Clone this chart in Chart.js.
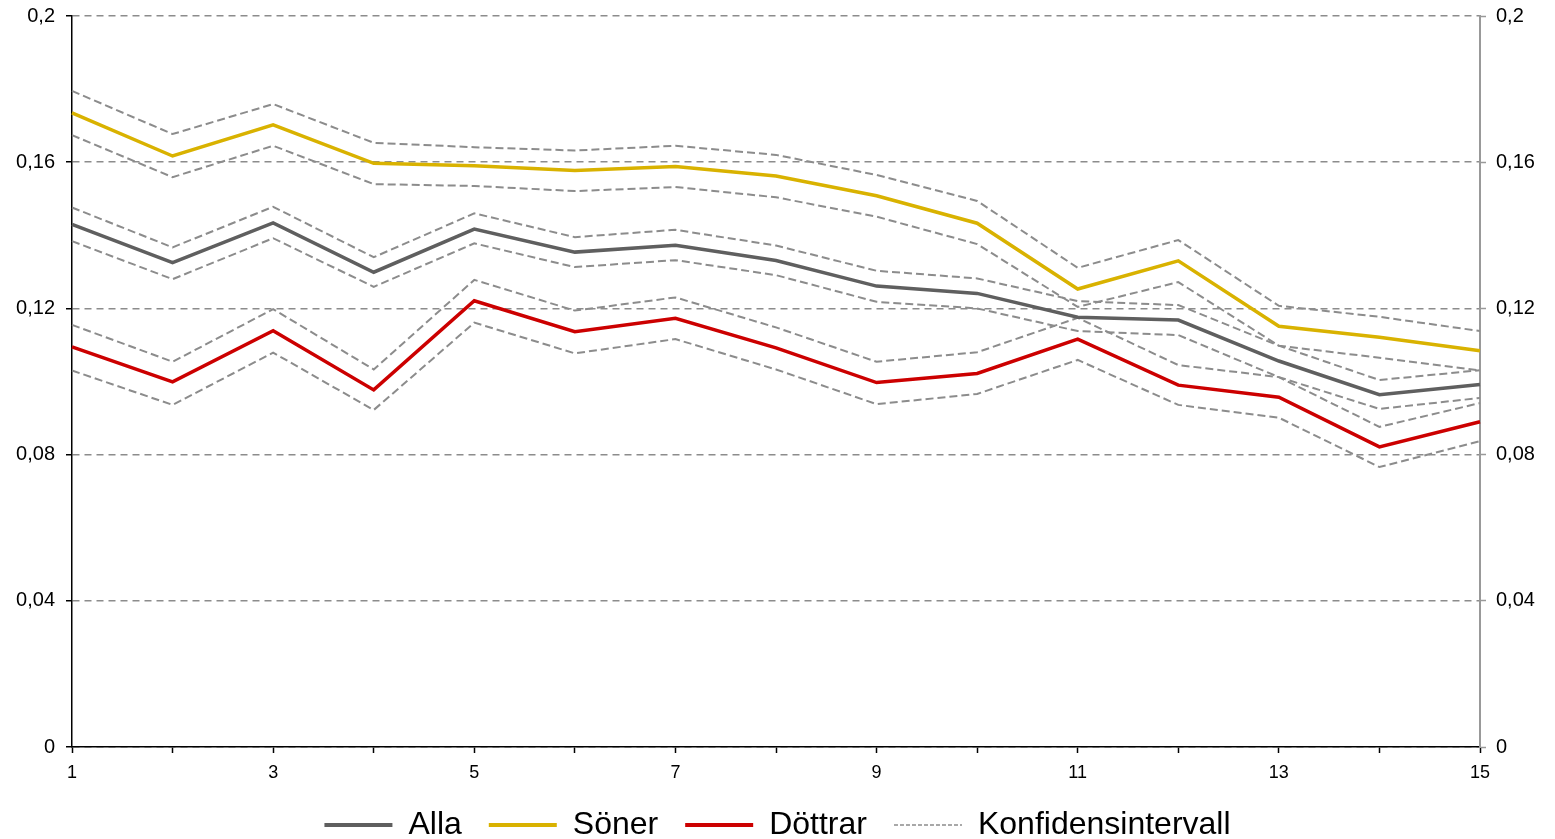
<!DOCTYPE html>
<html lang="sv">
<head>
<meta charset="utf-8">
<title>Andel per år</title>
<script src="https://cdn.jsdelivr.net/npm/chart.js@4/dist/chart.umd.min.js"></script>
<style>
  html, body { margin: 0; padding: 0; background: #fff; }
  #wrap { width: 1555px; height: 839px; position: relative; }
</style>
</head>
<body>
<div id="wrap"><canvas id="ciChart"></canvas></div>
<script>
// —————— DATA ——————
const xLabels = ['1', '2', '3', '4', '5', '6', '7', '8', '9', '10', '11', '12', '13', '14', '15'];
const yTicks = [0, 0.04, 0.08, 0.12, 0.16, 0.2];

const alla      = [0.1430, 0.1325, 0.1434, 0.1299, 0.1417, 0.1354, 0.1373, 0.1331, 0.1261, 0.1241, 0.1176, 0.1168, 0.1056, 0.0964, 0.0992];
const allaHigh  = [0.1476, 0.1367, 0.1478, 0.1340, 0.1460, 0.1395, 0.1415, 0.1372, 0.1303, 0.1282, 0.1220, 0.1209, 0.1098, 0.1004, 0.1031];
const allaLow   = [0.1384, 0.1280, 0.1392, 0.1259, 0.1378, 0.1313, 0.1332, 0.1291, 0.1218, 0.1200, 0.1138, 0.1127, 0.1012, 0.0925, 0.0955];

const soner     = [0.1735, 0.1617, 0.1702, 0.1597, 0.1590, 0.1577, 0.1588, 0.1562, 0.1508, 0.1433, 0.1253, 0.1330, 0.1151, 0.1121, 0.1084];
const sonerHigh = [0.1795, 0.1677, 0.1759, 0.1653, 0.1641, 0.1632, 0.1645, 0.1620, 0.1565, 0.1494, 0.1311, 0.1387, 0.1207, 0.1177, 0.1138];
const sonerLow  = [0.1674, 0.1559, 0.1645, 0.1540, 0.1535, 0.1521, 0.1532, 0.1504, 0.1451, 0.1376, 0.1204, 0.1272, 0.1098, 0.1065, 0.1030];

const dottrar     = [0.1095, 0.0999, 0.1139, 0.0977, 0.1221, 0.1136, 0.1173, 0.1092, 0.0997, 0.1022, 0.1116, 0.0990, 0.0957, 0.0821, 0.0890];
const dottrarHigh = [0.1155, 0.1054, 0.1198, 0.1033, 0.1278, 0.1194, 0.1230, 0.1148, 0.1054, 0.1080, 0.1174, 0.1045, 0.1012, 0.0876, 0.0941];
const dottrarLow  = [0.1030, 0.0936, 0.1079, 0.0922, 0.1161, 0.1077, 0.1116, 0.1033, 0.0938, 0.0966, 0.1059, 0.0936, 0.0901, 0.0766, 0.0837];

// —————— STYLE ——————
const FONT = '"Liberation Sans", Arial, sans-serif';
const ciColor = '#8c8c8c';

function mainLine(label, data, color) {
  return {
    label: label,
    data: data,
    borderColor: color,
    backgroundColor: color,
    borderWidth: 3.5,
    pointRadius: 0,
    tension: 0,
    fill: false
  };
}

function ciLine(data) {
  return {
    label: 'Konfidensintervall',
    data: data,
    borderColor: ciColor,
    backgroundColor: ciColor,
    borderWidth: 2,
    borderDash: [8, 4],
    pointRadius: 0,
    tension: 0,
    fill: false
  };
}

// 0.16 -> "0,16"
const fmt = v => String(Math.round(v * 100) / 100).replace('.', ',');

// keep the plot box where the reference has it (labels may overhang)
function fixY(width) {
  return s => {
    s.width = width;
    s.paddingTop = 0;
    s.paddingBottom = 0;
  };
}

const ctx = document.getElementById('ciChart');

new Chart(ctx, {
  type: 'line',
  data: {
    labels: xLabels,
    datasets: [
      mainLine('Alla', alla, '#5f5f5f'),
      mainLine('Söner', soner, '#d9b200'),
      mainLine('Döttrar', dottrar, '#cc0000'),
      ciLine(sonerHigh),
      ciLine(sonerLow),
      ciLine(allaHigh),
      ciLine(allaLow),
      ciLine(dottrarHigh),
      ciLine(dottrarLow)
    ]
  },
  options: {
    responsive: true,
    maintainAspectRatio: false,
    animation: false,
    layout: {
      padding: { top: 16, left: 0, right: 0, bottom: -12 }
    },
    scales: {
      x: {
        offset: false,
        afterFit: s => { s.height = 35; },
        grid: {
          drawOnChartArea: false,
          drawTicks: true,
          tickLength: 6,
          tickColor: '#000',
          tickWidth: 1.5
        },
        border: { display: true, color: '#000', width: 1.5 },
        ticks: {
          autoSkip: false,
          maxRotation: 0,
          padding: 9,
          color: '#000',
          font: { family: FONT, size: 18 },
          callback: function (value, index) {
            return index % 2 === 0 ? xLabels[index] : '';
          }
        }
      },
      y: {
        position: 'left',
        min: 0,
        max: 0.2,
        afterFit: fixY(72),
        afterBuildTicks: s => { s.ticks = yTicks.map(v => ({ value: v })); },
        grid: {
          color: ciColor,
          lineWidth: 1.5,
          drawTicks: true,
          tickLength: 6,
          tickColor: '#000',
          tickWidth: 1.5,
          tickBorderDash: []
        },
        border: { display: true, color: '#000', width: 1.5, dash: [7, 5] },
        ticks: {
          padding: 11,
          color: '#000',
          font: { family: FONT, size: 20 },
          callback: v => fmt(v)
        }
      },
      y2: {
        position: 'right',
        min: 0,
        max: 0.2,
        afterFit: fixY(75),
        afterBuildTicks: s => { s.ticks = yTicks.map(v => ({ value: v })); },
        grid: {
          drawOnChartArea: false,
          drawTicks: true,
          tickLength: 6,
          tickColor: '#999',
          tickWidth: 1.5
        },
        border: { display: true, color: '#999', width: 2 },
        ticks: {
          padding: 10,
          color: '#000',
          font: { family: FONT, size: 20 },
          callback: v => fmt(v)
        }
      }
    },
    plugins: {
      legend: {
        display: true,
        position: 'bottom',
        labels: {
          usePointStyle: true,
          pointStyle: 'line',
          pointStyleWidth: 68,
          padding: 27,
          color: '#000',
          font: { family: FONT, size: 32 },
          generateLabels: chart => {
            // one entry per series, one shared entry for the intervals
            const items = Chart.defaults.plugins.legend.labels.generateLabels(chart);
            return items.filter(i => i.datasetIndex <= 3).map(i => {
              if (i.datasetIndex === 3) {
                i.lineDash = [4, 2];
                i.lineWidth = 1.5;
              } else {
                i.lineWidth = 4;
              }
              return i;
            });
          }
        }
      },
      tooltip: { enabled: false }
    }
  }
});
</script>
</body>
</html>
